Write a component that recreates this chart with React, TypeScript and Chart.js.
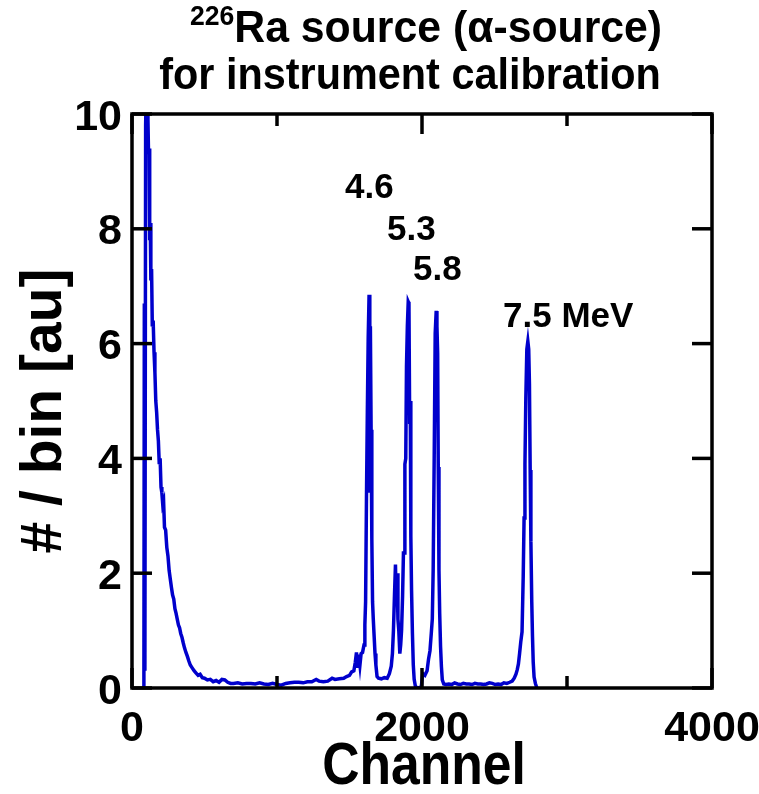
import React, { useEffect, useRef } from 'react';
import { Chart, registerables } from 'chart.js';

Chart.register(...registerables);

// ---- data ----
const channels = [
  82, 85, 89, 94, 99, 105, 110, 114, 118, 122, 126, 130, 135, 140, 146, 152, 158, 164, 170, 176,
  182, 188, 194, 200, 206, 212, 218, 224, 232, 240, 248, 256, 264, 272, 280, 288, 296, 304, 312, 320,
  328, 336, 345, 354, 362, 372, 382, 392, 402, 415, 428, 442, 456, 470, 485, 500, 520, 540, 560, 580,
  600, 620, 640, 660, 680, 700, 730, 760, 790, 820, 850, 880, 910, 940, 970, 1000, 1030, 1060, 1090, 1120,
  1150, 1180, 1210, 1240, 1270, 1290, 1320, 1350, 1380, 1400, 1430, 1460, 1480, 1500, 1515, 1530, 1540, 1548, 1556, 1564,
  1572, 1580, 1590, 1600, 1606, 1611, 1617, 1623, 1629, 1635, 1640, 1644, 1649, 1654, 1659, 1664, 1670, 1676, 1682, 1690,
  1700, 1720, 1740, 1760, 1775, 1788, 1796, 1803, 1810, 1817, 1822, 1828, 1834, 1840, 1847, 1853, 1859, 1866, 1872, 1876,
  1882, 1888, 1893, 1899, 1905, 1910, 1915, 1919, 1923, 1928, 1934, 1940, 1946, 1955, 1975, 1995, 2005, 2020, 2035, 2045,
  2055, 2064, 2071, 2077, 2084, 2091, 2098, 2103, 2108, 2112, 2117, 2122, 2128, 2134, 2140, 2150, 2165, 2185, 2205, 2225,
  2245, 2265, 2285, 2305, 2325, 2345, 2365, 2385, 2405, 2425, 2445, 2465, 2485, 2505, 2525, 2545, 2565, 2585, 2605, 2622,
  2636, 2648, 2657, 2665, 2673, 2681, 2690, 2698, 2704, 2710, 2716, 2723, 2730, 2736, 2741, 2746, 2751, 2757, 2762, 2767,
  2773, 2782, 2792,
];

const counts = [
  0, 6.7, 0.3, 9.8, 10.6, 10.3, 9.9, 9.3, 9.4, 7.8, 8.1, 7.1, 7.3, 6.3, 6.4, 5.85, 5.5, 5.0, 4.8, 4.5,
  4.3, 3.9, 4.0, 3.5, 3.4, 3.2, 3.25, 2.8, 2.75, 2.45, 2.3, 2.05, 1.9, 1.75, 1.62, 1.55, 1.38, 1.3, 1.2, 1.1,
  1.05, 0.95, 0.88, 0.78, 0.7, 0.62, 0.55, 0.47, 0.4, 0.35, 0.3, 0.26, 0.22, 0.24, 0.18, 0.17, 0.14, 0.15, 0.11, 0.13,
  0.1, 0.15, 0.14, 0.1, 0.08, 0.08, 0.09, 0.07, 0.08, 0.08, 0.07, 0.09, 0.07, 0.06, 0.08, 0.06, 0.05, 0.08, 0.09, 0.1,
  0.1, 0.09, 0.11, 0.11, 0.15, 0.12, 0.11, 0.12, 0.17, 0.15, 0.16, 0.17, 0.2, 0.22, 0.28, 0.3, 0.45, 0.62, 0.35, 0.58,
  0.4, 0.6, 0.62, 0.75, 1.1, 1.5, 3.3, 4.8, 6.1, 6.85, 3.4, 6.3, 4.5, 2.6, 1.5, 1.2, 0.9, 0.6, 0.4, 0.2,
  0.17, 0.16, 0.18, 0.17, 0.25, 0.38, 0.6, 1.0, 1.6, 2.15, 1.5, 2.0, 1.2, 1.0, 0.6, 0.75, 1.0, 1.6, 2.35, 2.35,
  3.9, 4.0, 5.6, 6.3, 6.73, 6.7, 4.6, 5.0, 2.65, 1.7, 0.95, 0.4, 0.15, 0.02, 0.0, 0.02, 0.25, 0.22, 0.3, 0.5,
  0.65, 0.95, 1.2, 2.05, 3.97, 6.18, 6.57, 6.3, 5.83, 3.85, 2.05, 1.3, 0.72, 0.37, 0.14, 0.07, 0.06, 0.07, 0.06, 0.09,
  0.07, 0.06, 0.08, 0.07, 0.07, 0.06, 0.08, 0.07, 0.07, 0.06, 0.07, 0.09, 0.08, 0.06, 0.07, 0.06, 0.09, 0.08, 0.1, 0.12,
  0.17, 0.24, 0.32, 0.42, 0.6, 0.8, 0.98, 1.94, 2.96, 3.9, 5.04, 5.9, 6.04, 5.9, 5.3, 3.8, 2.55, 1.5, 0.9, 0.45,
  0.19, 0.08, 0.0,
];

const xTickValues = [0, 1000, 2000, 3000, 4000];
const xTickLabels = ['0', '', '2000', '', '4000'];
const yTickValues = [0, 2, 4, 6, 8, 10];
const yTickLabels = ['0', '2', '4', '6', '8', '10'];

const peakLabels = ['4.6', '5.3', '5.8', '7.5 MeV'];
const peakLabelChannels = [1469, 1759, 1938, 2559];
const peakLabelValues = [8.54, 7.8, 7.11, 6.29];

const titleSup = '226';
const titleLine1 = 'Ra source (\u03b1-source)';
const titleLine2 = 'for instrument calibration';
const xTitle = 'Channel';
const yTitle = '# / bin [au]';

const FONT = '"Liberation Sans", Arial, Helvetica, sans-serif';
const LINE_COLOR = '#0000CC';

const decorPlugin = {
  id: 'decor',
  afterDatasetsDraw(chart: any) {
    const { ctx, chartArea: a } = chart;
    const xs = chart.scales.x;
    const ys = chart.scales.y;
    ctx.save();
    ctx.strokeStyle = '#000';
    ctx.fillStyle = '#000';
    ctx.lineWidth = 3.5;
    ctx.lineCap = 'butt';
    ctx.strokeRect(a.left, a.top, a.right - a.left, a.bottom - a.top);

    const seg = (x1: number, y1: number, x2: number, y2: number) => {
      ctx.beginPath();
      ctx.moveTo(x1, y1);
      ctx.lineTo(x2, y2);
      ctx.stroke();
    };

    // inner ticks, mirrored on all four sides
    yTickValues.forEach((v) => {
      const py = ys.getPixelForValue(v);
      seg(a.left, py, a.left + 20, py);
      seg(a.right - 20, py, a.right, py);
    });
    xTickValues.forEach((v, i) => {
      const px = xs.getPixelForValue(v);
      const len = xTickLabels[i] ? 20 : 12;
      seg(px, a.bottom, px, a.bottom - len);
      seg(px, a.top, px, a.top + len);
    });

    // tick labels
    ctx.font = `bold 43px ${FONT}`;
    ctx.textBaseline = 'alphabetic';
    ctx.textAlign = 'right';
    yTickValues.forEach((v, i) => {
      const py = ys.getPixelForValue(v);
      ctx.fillText(yTickLabels[i], a.left - 10, py + 15.5);
    });
    ctx.textAlign = 'center';
    xTickValues.forEach((v, i) => {
      if (!xTickLabels[i]) return;
      const px = xs.getPixelForValue(v);
      ctx.fillText(xTickLabels[i], px, a.bottom + 53);
    });

    // x axis title (condensed)
    ctx.save();
    ctx.font = `bold 60px ${FONT}`;
    ctx.textAlign = 'center';
    ctx.translate((a.left + a.right) / 2 + 2, a.bottom + 96);
    ctx.scale(0.86, 1);
    ctx.fillText(xTitle, 0, 0);
    ctx.restore();

    // y axis title
    ctx.save();
    ctx.font = `bold 57px ${FONT}`;
    ctx.textAlign = 'center';
    ctx.translate(61, (a.top + a.bottom) / 2 + 10);
    ctx.rotate(-Math.PI / 2);
    ctx.fillText(yTitle, 0, 0);
    ctx.restore();

    // peak energy labels
    ctx.font = `bold 35px ${FONT}`;
    ctx.textAlign = 'left';
    peakLabels.forEach((t, i) => {
      ctx.fillText(t, xs.getPixelForValue(peakLabelChannels[i]), ys.getPixelForValue(peakLabelValues[i]));
    });

    // title (slightly condensed, two lines, superscript mass number)
    const cx = (a.left + a.right) / 2;
    const mainFont = `bold 45px ${FONT}`;
    const supFont = `bold 28px ${FONT}`;
    const s1 = 0.95;
    ctx.font = supFont;
    const wSup = ctx.measureText(titleSup).width;
    ctx.font = mainFont;
    const wMain = ctx.measureText(titleLine1).width;
    ctx.save();
    ctx.translate(cx + 4, 0);
    ctx.scale(s1, 1);
    const start = -(wSup + wMain) / 2;
    ctx.textAlign = 'left';
    ctx.font = supFont;
    ctx.fillText(titleSup, start, 25);
    ctx.font = mainFont;
    ctx.fillText(titleLine1, start + wSup, 42);
    ctx.restore();

    ctx.save();
    ctx.translate(cx - 12, 89);
    ctx.scale(0.92, 1);
    ctx.font = mainFont;
    ctx.textAlign = 'center';
    ctx.fillText(titleLine2, 0, 0);
    ctx.restore();

    ctx.restore();
  },
};

export default function App() {
  const ref = useRef<HTMLCanvasElement | null>(null);

  useEffect(() => {
    if (!ref.current) return;
    const points = channels.map((c, i) => ({ x: c, y: counts[i] }));
    const chart = new Chart(ref.current, {
      type: 'line',
      data: {
        datasets: [
          {
            data: points,
            borderColor: LINE_COLOR,
            borderWidth: 3.5,
            pointRadius: 0,
            tension: 0,
            fill: false,
          },
        ],
      },
      options: {
        responsive: false,
        animation: false,
        devicePixelRatio: 1,
        layout: { padding: { left: 132, top: 114, right: 47, bottom: 106 } },
        plugins: { legend: { display: false }, tooltip: { enabled: false }, title: { display: false } },
        scales: {
          x: { type: 'linear', min: 0, max: 4000, display: false },
          y: { type: 'linear', min: 0, max: 10, display: false },
        },
      },
      plugins: [decorPlugin],
    });
    return () => chart.destroy();
  }, []);

  return (
    <div style={{ position: 'absolute', left: 0, top: 0, width: 759, height: 794, background: '#fff' }}>
      <canvas ref={ref} width={759} height={794} />
    </div>
  );
}
